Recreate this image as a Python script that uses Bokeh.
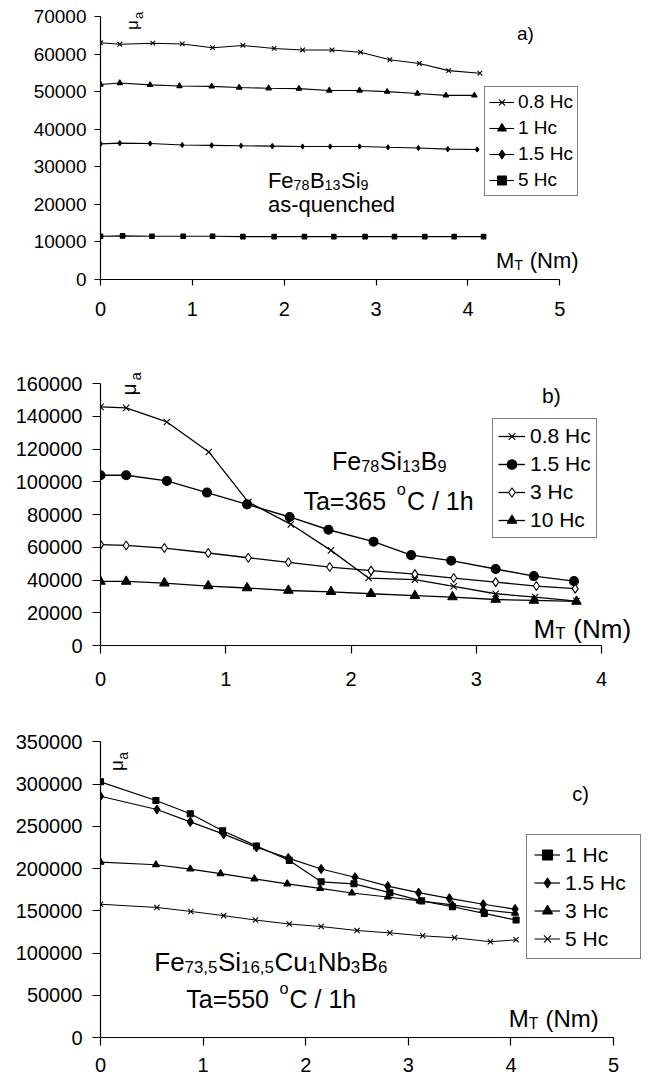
from bokeh.plotting import figure
from bokeh.layouts import column
from bokeh.models import (Range1d, FixedTicker, BasicTickFormatter, Label,
                          Legend, LegendItem)
from bokeh.embed import file_html
from bokeh.resources import INLINE

# ---------------- data ----------------
# panel a) Fe78B13Si9 as-quenched
A_LABELS = ["0.8 Hc", "1 Hc", "1.5 Hc", "5 Hc"]
A_X_08 = [0, 0.21, 0.57, 0.89, 1.22, 1.55, 1.89, 2.2, 2.52, 2.83, 3.15, 3.47, 3.79, 4.13]
A_Y_08 = [63000, 62600, 62900, 62700, 61700, 62300, 61500, 61100, 61100, 60500, 58500, 57500, 55600, 54900]
A_X_1 = [0, 0.21, 0.54, 0.86, 1.21, 1.51, 1.83, 2.16, 2.49, 2.82, 3.12, 3.45, 3.76, 4.07]
A_Y_1 = [51900, 52300, 51800, 51500, 51400, 51100, 50900, 50800, 50300, 50300, 50000, 49500, 49000, 49000]
A_X_15 = [0, 0.21, 0.54, 0.89, 1.21, 1.53, 1.87, 2.2, 2.5, 2.82, 3.13, 3.46, 3.78, 4.1]
A_Y_15 = [36100, 36300, 36200, 35800, 35700, 35600, 35500, 35400, 35400, 35400, 35200, 35000, 34700, 34600]
A_X_5 = [0, 0.24, 0.56, 0.9, 1.22, 1.55, 1.89, 2.22, 2.54, 2.88, 3.2, 3.53, 3.85, 4.17]
A_Y_5 = [11500, 11600, 11500, 11500, 11500, 11400, 11400, 11400, 11400, 11400, 11400, 11400, 11400, 11400]
A_XTICKS = [0, 1, 2, 3, 4, 5]
A_YTICKS = [0, 10000, 20000, 30000, 40000, 50000, 60000, 70000]

# panel b) Fe78Si13B9 Ta=365 C / 1h
B_LABELS = ["0.8 Hc", "1.5 Hc", "3 Hc", "10 Hc"]
B_X_08 = [0, 0.205, 0.53, 0.865, 1.18, 1.52, 1.84, 2.14, 2.51, 2.82, 3.155, 3.47, 3.80]
B_Y_08 = [145700, 145100, 136500, 118200, 87600, 74000, 58100, 41200, 40200, 36100, 31600, 29600, 27100]
B_X_15 = [0, 0.205, 0.53, 0.85, 1.17, 1.51, 1.82, 2.18, 2.48, 2.80, 3.155, 3.46, 3.78]
B_Y_15 = [104000, 104000, 100500, 93400, 86200, 78500, 70700, 63400, 55200, 51800, 46700, 42400, 39300]
B_X_3 = [0, 0.205, 0.51, 0.86, 1.18, 1.50, 1.83, 2.16, 2.51, 2.82, 3.155, 3.48, 3.79]
B_Y_3 = [61600, 61100, 59500, 56500, 53600, 50800, 47900, 45700, 43600, 41200, 38700, 36300, 34700]
B_X_10 = [0, 0.205, 0.51, 0.86, 1.17, 1.50, 1.84, 2.16, 2.51, 2.81, 3.155, 3.46, 3.80]
B_Y_10 = [39100, 39100, 38100, 36300, 35100, 33600, 32800, 31600, 30400, 29600, 28100, 27500, 26900]
B_XTICKS = [0, 1, 2, 3, 4]
B_YTICKS = [0, 20000, 40000, 60000, 80000, 100000, 120000, 140000, 160000]

# panel c) Fe73,5Si16,5Cu1Nb3B6 Ta=550 C / 1h
C_LABELS = ["1 Hc", "1.5 Hc", "3 Hc", "5 Hc"]
C_X_1 = [0, 0.54, 0.875, 1.19, 1.52, 1.84, 2.15, 2.47, 2.82, 3.13, 3.43, 3.74, 4.05]
C_Y_1 = [302800, 280600, 265000, 244800, 226800, 209700, 184400, 182000, 171500, 161800, 154800, 147000, 139100]
C_X_15 = [0, 0.55, 0.875, 1.20, 1.52, 1.83, 2.15, 2.48, 2.80, 3.10, 3.40, 3.73, 4.04]
C_Y_15 = [285700, 270000, 255300, 240800, 225300, 212400, 199500, 189800, 179300, 171500, 164800, 157800, 152000]
C_X_3 = [0, 0.54, 0.875, 1.17, 1.50, 1.82, 2.14, 2.45, 2.80, 3.11, 3.43, 3.73, 4.04]
C_Y_3 = [207700, 204600, 199500, 194100, 187900, 182000, 176500, 171100, 166400, 161800, 157100, 151300, 147300]
C_X_5 = [0, 0.55, 0.88, 1.20, 1.51, 1.84, 2.15, 2.50, 2.82, 3.14, 3.45, 3.80, 4.05]
C_Y_5 = [157800, 154000, 149300, 144300, 139100, 134400, 131400, 126700, 123900, 120400, 118100, 113400, 115700]
C_XTICKS = [0, 1, 2, 3, 4, 5]
C_YTICKS = [0, 50000, 100000, 150000, 200000, 250000, 300000, 350000]

# ---------------- helpers ----------------
FONT = "Liberation Sans"
FIG_W = 655
CW = {" ": .278, "(": .333, ")": .333, ",": .278, "-": .333, ".": .278, "/": .278,
      "=": .584, "B": .667, "C": .722, "F": .611, "H": .722, "M": .833, "N": .722,
      "S": .667, "T": .611, "a": .556, "b": .556, "c": .5, "d": .556, "e": .556,
      "h": .556, "i": .222, "m": .833, "n": .556, "o": .556, "q": .556, "s": .5,
      "u": .556}


def tw(s, size):
    return sum(CW.get(ch, .556) for ch in s) * size


class Geo:
    """page-pixel -> data conversion for one panel"""
    def __init__(self, top, bl, bt, fh, ax_w, ax_h, xend, yend):
        self.FL = bl
        self.FB = top + bt + fh
        self.ppx = ax_w / xend
        self.ppy = ax_h / yend

    def d(self, px, py):
        return ((px - self.FL) / self.ppx, (self.FB - py) / self.ppy)


def label(p, g, px, py, text, size, angle=0):
    x, y = g.d(px, py)
    p.add_layout(Label(x=x, y=y, text=text, text_font=FONT,
                       text_font_size=f"{size:.1f}px", text_color="black",
                       text_align="left", text_baseline="alphabetic", angle=angle))


def rich(p, g, px, py, parts, size, align="left"):
    sub = 0.65
    ws = []
    for t, k in parts:
        if k == "g":
            ws.append(t)
        else:
            ws.append(tw(t, size if k == "n" else size * sub) + (0.6 if k == "b" else 0))
    x0 = px - (sum(ws) / 2 if align == "center" else 0)
    for (t, k), w in zip(parts, ws):
        if k != "g":
            fs = size if k == "n" else size * sub
            dy = 0 if k == "n" else (0.2 * size if k == "b" else -0.46 * size)
            lead = len(t) - len(t.lstrip(" "))
            label(p, g, x0 + tw(t[:lead], fs), py + dy, t.strip(" "), fs)
        x0 += w


def make_fig(top, height, bl, bt, bb, fh, ax_w, ax_h, xend, yend, xticks,
             yticks, tick_out, xstand, ystand, xfs, yfs):
    fw = FIG_W - bl - 5
    g = Geo(top, bl, bt, fh, ax_w, ax_h, xend, yend)
    p = figure(width=FIG_W, height=height, x_range=Range1d(0, fw / g.ppx),
               y_range=Range1d(0, fh / g.ppy), toolbar_location=None,
               output_backend="svg", min_border_left=bl, min_border_right=5,
               min_border_top=bt, min_border_bottom=bb)
    p.outline_line_color = None
    p.grid.visible = False
    p.background_fill_color = "white"
    p.border_fill_color = "white"
    p.xaxis.ticker = FixedTicker(ticks=xticks)
    p.yaxis.ticker = FixedTicker(ticks=yticks)
    p.xaxis.bounds = (0, xend)
    p.yaxis.bounds = (0, yend)
    p.yaxis.formatter = BasicTickFormatter(use_scientific=False)
    for ax, st, fs in ((p.xaxis, xstand, xfs), (p.yaxis, ystand, yfs)):
        ax.axis_line_color = "black"
        ax.axis_line_width = 1.2
        ax.major_tick_line_color = "black"
        ax.major_tick_line_width = 1.2
        ax.major_tick_in = 0
        ax.major_tick_out = tick_out
        ax.minor_tick_line_color = None
        ax.major_label_standoff = st
        ax.major_label_text_font = FONT
        ax.major_label_text_font_size = f"{fs}px"
        ax.major_label_text_color = "black"
    return p, g


def series(p, xs, ys, marker, size, lw=1.2, fill="black"):
    rl = p.line(xs, ys, line_color="black", line_width=lw)
    rs = p.scatter(xs, ys, marker=marker, size=size, line_color="black",
                   fill_color=fill, line_width=1.1)
    return [rl, rs]


def legend(p, g, px, py, labels, rends, fs, pad, lh, sp, gw, stand, lw_):
    items = [LegendItem(label=l, renderers=r) for l, r in zip(labels, rends)]
    n = len(items)
    h = 2 * pad + n * lh + (n - 1) * sp
    vx = px - g.FL
    vy = g.FB - (py + h)
    lg = Legend(items=items, location=(vx, vy), margin=0, padding=pad,
                spacing=sp, label_height=lh, glyph_height=lh, glyph_width=gw,
                label_standoff=stand, label_width=lw_,
                label_text_font=FONT, label_text_font_size=f"{fs}px",
                label_text_color="black", border_line_color="black",
                border_line_width=1.2, background_fill_color="white",
                background_fill_alpha=1.0)
    p.add_layout(lg)


ROT = 1.5708

# ---------------- panel a ----------------
pa, ga = make_fig(0, 335, 98, 2, 56, 277, 461, 263, 5, 70000, A_XTICKS, A_YTICKS,
                  6, 16, 8, 20, 19)
ra = [series(pa, A_X_08, A_Y_08, "x", 6.5, lw=1.1),
      series(pa, A_X_1, A_Y_1, "triangle", 5.5, lw=1.1),
      series(pa, A_X_15, A_Y_15, "diamond", 5, lw=1.1),
      series(pa, A_X_5, A_Y_5, "square", 4.5, lw=1.1)]
legend(pa, ga, 482, 88, A_LABELS, ra, 19, 4, 22, 4, 25, 4, 55)
label(pa, ga, 516, 33, "a)", 19)
rich(pa, ga, 266, 180, [("Fe", "n"), ("78", "b"), ("B", "n"), ("13", "b"),
                        ("Si", "n"), ("9", "b")], 22)
label(pa, ga, 266, 204, "as-quenched", 22)
rich(pa, ga, 495, 260, [("M", "n"), ("T", "b"), (" (Nm)", "n")], 22)
label(pa, ga, 130.5, 29.5, "μ", 17, angle=ROT)
label(pa, ga, 136.5, 18.5, "a", 13, angle=ROT)

# ---------------- panel b ----------------
pb, gb = make_fig(335, 360, 100, 5, 50, 305, 501, 262, 4, 160000, B_XTICKS,
                  B_YTICKS, 8, 18, 10, 20, 20)
rb = [series(pb, B_X_08, B_Y_08, "x", 9, lw=1.3),
      series(pb, B_X_15, B_Y_15, "circle", 9, lw=1.4),
      series(pb, B_X_3, B_Y_3, "diamond", 9, lw=1.3, fill="white"),
      series(pb, B_X_10, B_Y_10, "triangle", 9.5, lw=1.3)]
legend(pb, gb, 492, 420, B_LABELS, rb, 21, 5, 24, 4, 27, 5, 61)
label(pb, gb, 541.5, 395, "b)", 21)
rich(pb, gb, 389, 460, [("Fe", "n"), ("78", "b"), ("Si", "n"), ("13", "b"),
                        ("B", "n"), ("9", "b")], 25, align="center")
rich(pb, gb, 388, 500, [("Ta=365", "n"), (8, "g"), ("o", "p"), (1, "g"),
                        ("C / 1h", "n")], 25, align="center")
rich(pb, gb, 533, 628, [("M", "n"), ("T", "b"), (" (Nm)", "n")], 26)
label(pb, gb, 128, 395, "μ", 21, angle=ROT)
label(pb, gb, 135, 380, "a", 15, angle=ROT)

# ---------------- panel c ----------------
pc, gc = make_fig(695, 385, 99, 10, 43, 337, 514, 300, 5, 350000, C_XTICKS,
                  C_YTICKS, 8, 12, 10, 20, 20)
rc = [series(pc, C_X_1, C_Y_1, "square", 6),
      series(pc, C_X_15, C_Y_15, "diamond", 9),
      series(pc, C_X_3, C_Y_3, "triangle", 7),
      series(pc, C_X_5, C_Y_5, "x", 7.5, lw=1.0)]
legend(pc, gc, 525, 841, C_LABELS, rc, 21, 7, 25, 3, 26, 5, 68)
label(pc, gc, 571.5, 795, "c)", 20)
rich(pc, gc, 270, 965, [("Fe", "n"), ("73,5", "b"), ("Si", "n"), ("16,5", "b"),
                        ("Cu", "n"), ("1", "b"), ("Nb", "n"), ("3", "b"),
                        ("B", "n"), ("6", "b")], 26, align="center")
rich(pc, gc, 270, 1003, [("Ta=550", "n"), (8, "g"), ("o", "p"), (1, "g"),
                         ("C / 1h", "n")], 25, align="center")
rich(pc, gc, 508, 1023, [("M", "n"), ("T", "b"), (" (Nm)", "n")], 24)
label(pc, gc, 115, 771.5, "μ", 19, angle=ROT)
label(pc, gc, 121.5, 760, "a", 14, angle=ROT)

layout = column(pa, pb, pc)
open("out.html", "w").write(file_html(layout, INLINE))
